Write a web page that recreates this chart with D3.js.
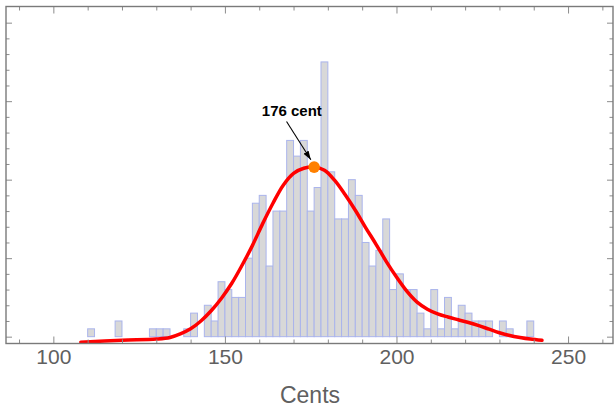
<!DOCTYPE html>
<html>
<head>
<meta charset="utf-8">
<script src="https://cdn.jsdelivr.net/npm/d3@7"></script>
<style>
  body { margin: 0; background: #fff; }
  svg { display: block; }
</style>
</head>
<body>
<svg id="chart" width="614" height="408"></svg>
<script>
// Histogram bins (left edge in cents, 2-cent wide) and their counts
const binStarts = [110, 112, 114, 116, 118, 120, 122, 124, 126, 128, 130, 132, 134, 136, 138,
  140, 142, 144, 146, 148, 150, 152, 154, 156, 158, 160, 162, 164, 166, 168, 170, 172, 174,
  176, 178, 180, 182, 184, 186, 188, 190, 192, 194, 196, 198, 200, 202, 204, 206, 208, 210,
  212, 214, 216, 218, 220, 222, 224, 226, 228, 230, 232, 234, 236, 238];
const binCounts = [1, 0, 0, 0, 2, 0, 0, 0, 0, 1, 1, 1, 0, 0, 1,
  3, 0, 4, 2, 7, 6, 5, 5, 10, 17, 18, 9, 16, 16, 25, 23, 25, 16,
  19, 35, 21, 15, 15, 20, 18, 12, 9, 11, 15, 6, 8, 6, 6, 3, 1, 6,
  1, 5, 1, 4, 3, 2, 2, 2, 0, 2, 1, 0, 0, 2];
const binWidth = 2;

// Smoothed density, expressed in count units
const fitCents  = [108, 120, 130, 134, 137, 140, 143, 146, 149, 152, 155, 158, 161, 164, 167,
  170, 173, 176, 179, 182, 185, 188, 191, 194, 197, 200, 203, 206, 209, 212, 215, 218, 221,
  224, 227, 230, 233, 236, 239, 242.4];
const fitCounts = [-0.7, -0.45, -0.3, -0.1, 0.35, 1.0, 2.0, 3.3, 4.9, 6.8, 9.1, 11.6, 14.4, 17.0, 19.3,
  20.8, 21.45, 21.6, 21.2, 19.9, 18.1, 16.1, 13.9, 11.8, 9.6, 7.6, 5.8, 4.4, 3.5, 2.9, 2.5, 2.15, 1.8,
  1.4, 0.95, 0.5, 0.15, -0.1, -0.3, -0.46];

// Peak marker
const peakCents = 176;
const peakCount = 21.6;
const peakLabel = "176 cent";

// Axis ticks
const xMajorTicks = [100, 150, 200, 250];
const xMinorTicks = [90, 110, 120, 130, 140, 160, 170, 180, 190, 210, 220, 230, 240, 260];
const yMajorTicks = [0, 10, 20, 30, 40];
const yMinorTicks = [2, 4, 6, 8, 12, 14, 16, 18, 22, 24, 26, 28, 32, 34, 36, 38];
const xTitle = "Cents";

const svg = d3.select("#chart");
const frame = { left: 6, right: 613, top: 6.5, bottom: 343.5 };

const x = d3.scaleLinear().domain([86.2, 263.1]).range([frame.left, frame.right]);
const y = d3.scaleLinear().domain([-0.87, 42.06]).range([frame.bottom, frame.top]);

const bins = binStarts.map((s, i) => ({ start: s, count: binCounts[i] })).filter(d => d.count > 0);

// Bars
svg.append("g")
  .selectAll("rect")
  .data(bins)
  .join("rect")
  .attr("x", d => x(d.start))
  .attr("y", d => y(d.count))
  .attr("width", d => x(d.start + binWidth) - x(d.start))
  .attr("height", d => y(0) - y(d.count))
  .attr("fill", "#d8d8d8")
  .attr("stroke", "#aab4ec")
  .attr("stroke-width", 1);

// Density curve
const line = d3.line()
  .x((d, i) => x(fitCents[i]))
  .y(d => y(d))
  .curve(d3.curveCatmullRom.alpha(0.5));

svg.append("path")
  .datum(fitCounts)
  .attr("d", line)
  .attr("fill", "none")
  .attr("stroke", "#ff0000")
  .attr("stroke-width", 3.5)
  .attr("stroke-linecap", "round")
  .attr("stroke-linejoin", "round");

// Frame with inward ticks on all four sides
function styleAxis(g) {
  g.select(".domain").remove();
  g.selectAll(".tick line").attr("stroke", "#8c8c8c").attr("stroke-width", 1);
}
const noLabel = () => "";

svg.append("g").attr("transform", `translate(0,${frame.bottom})`)
  .call(d3.axisBottom(x).tickValues(xMinorTicks).tickSize(-4).tickFormat(noLabel)).call(styleAxis);
const xb = svg.append("g").attr("transform", `translate(0,${frame.bottom})`)
  .call(d3.axisBottom(x).tickValues(xMajorTicks).tickSize(-7).tickPadding(6).tickFormat(d3.format("d")))
  .call(styleAxis);
xb.selectAll(".tick text")
  .attr("fill", "#606060")
  .style("font-family", "'Liberation Sans', Arial, Helvetica, sans-serif")
  .style("font-size", "21px");

svg.append("g").attr("transform", `translate(0,${frame.top})`)
  .call(d3.axisTop(x).tickValues(xMinorTicks).tickSize(-4).tickFormat(noLabel)).call(styleAxis);
svg.append("g").attr("transform", `translate(0,${frame.top})`)
  .call(d3.axisTop(x).tickValues(xMajorTicks).tickSize(-7).tickFormat(noLabel)).call(styleAxis);

svg.append("g").attr("transform", `translate(${frame.left},0)`)
  .call(d3.axisLeft(y).tickValues(yMinorTicks).tickSize(-3.5).tickFormat(noLabel)).call(styleAxis);
svg.append("g").attr("transform", `translate(${frame.left},0)`)
  .call(d3.axisLeft(y).tickValues(yMajorTicks).tickSize(-6).tickFormat(noLabel)).call(styleAxis);
svg.append("g").attr("transform", `translate(${frame.right},0)`)
  .call(d3.axisRight(y).tickValues(yMinorTicks).tickSize(-3.5).tickFormat(noLabel)).call(styleAxis);
svg.append("g").attr("transform", `translate(${frame.right},0)`)
  .call(d3.axisRight(y).tickValues(yMajorTicks).tickSize(-6).tickFormat(noLabel)).call(styleAxis);

svg.append("rect")
  .attr("x", frame.left).attr("y", frame.top)
  .attr("width", frame.right - frame.left).attr("height", frame.bottom - frame.top)
  .attr("fill", "none")
  .attr("stroke", "#7a7a7a")
  .attr("stroke-width", 1.4);

// Axis title
svg.append("text")
  .attr("x", 310)
  .attr("y", 403)
  .attr("text-anchor", "middle")
  .attr("fill", "#606060")
  .style("font-family", "'Liberation Sans', Arial, Helvetica, sans-serif")
  .style("font-size", "23px")
  .text(xTitle);

// Peak annotation
const px = x(peakCents), py = y(peakCount);

svg.append("defs").append("marker")
  .attr("id", "arrowhead")
  .attr("markerUnits", "userSpaceOnUse")
  .attr("markerWidth", 10).attr("markerHeight", 8)
  .attr("refX", 9).attr("refY", 3)
  .attr("orient", "auto")
  .append("path")
  .attr("d", "M0,0 L9,3 L0,6 Z")
  .attr("fill", "#000");

svg.append("line")
  .attr("x1", px - 27.6).attr("y1", py - 45.6)
  .attr("x2", px - 3.3).attr("y2", py - 7.3)
  .attr("stroke", "#000")
  .attr("stroke-width", 1.1)
  .attr("marker-end", "url(#arrowhead)");

svg.append("text")
  .attr("x", px - 22.3)
  .attr("y", py - 51.6)
  .attr("text-anchor", "middle")
  .attr("fill", "#000")
  .style("font-family", "'Liberation Sans', Arial, Helvetica, sans-serif")
  .style("font-size", "15px")
  .style("font-weight", "bold")
  .text(peakLabel);

svg.append("circle")
  .attr("cx", px).attr("cy", py)
  .attr("r", 5.8)
  .attr("fill", "#ff8000");
</script>
</body>
</html>
